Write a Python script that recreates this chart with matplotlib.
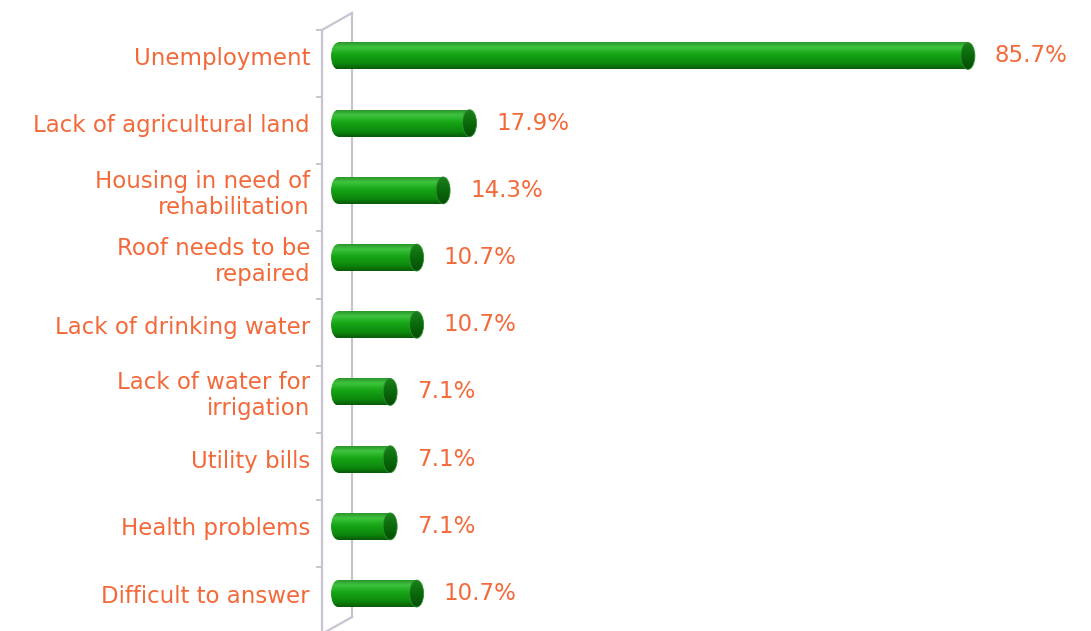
import numpy as np
import matplotlib
matplotlib.use('Agg')
from matplotlib import pyplot as plt
from matplotlib.patches import Ellipse
from matplotlib.colors import LinearSegmentedColormap

# data
categories = ['Unemployment', 'Lack of agricultural land', 'Housing in need of\nrehabilitation',
              'Roof needs to be\nrepaired', 'Lack of drinking water', 'Lack of water for\nirrigation',
              'Utility bills', 'Health problems', 'Difficult to answer']
values = [85.7, 17.9, 14.3, 10.7, 10.7, 7.1, 7.1, 7.1, 10.7]

text_color = '#F4693A'
wall_color = '#c9c3d1'
body_cmap = LinearSegmentedColormap.from_list('body', [(0, '#2b962b'), (0.18, '#3fc43f'), (0.45, '#16a616'),
                                                        (0.8, '#0c880c'), (1, '#095a09')])
cap_cmap = LinearSegmentedColormap.from_list('cap', [(0, '#1c7f1c'), (0.5, '#0a6a0a'), (1, '#054d05')])

fig = plt.figure(figsize=(10.91, 6.31), dpi=100)
ax = fig.add_axes([322/1091., 0, 1 - 322/1091., 1])

bar_h = 0.40
cap_w = 1.9
grad = np.linspace(0, 1, 64).reshape(-1, 1)

for i, v in enumerate(values):
    top, bot = i - bar_h/2, i + bar_h/2
    # body
    ax.imshow(grad, cmap=body_cmap, extent=[0, v, bot, top], origin='upper', aspect='auto', zorder=3)
    # rounded left end
    left = Ellipse((0, i), cap_w, bar_h, transform=ax.transData)
    im = ax.imshow(grad, cmap=body_cmap, extent=[-cap_w/2, cap_w/2, bot, top], origin='upper',
                   aspect='auto', zorder=3)
    im.set_clip_path(left)
    # right end face
    right = Ellipse((v, i), cap_w, bar_h, transform=ax.transData)
    im = ax.imshow(grad, cmap=cap_cmap, extent=[v - cap_w/2, v + cap_w/2, bot, top], origin='upper',
                   aspect='auto', zorder=4)
    im.set_clip_path(right)
    ax.add_patch(Ellipse((v, i), cap_w, bar_h, facecolor='none', edgecolor='#2e8f2e', lw=0.6, zorder=4))
    ax.annotate('%.1f%%' % v, xy=(v, i), xytext=(19.5, 0), textcoords='offset points',
                va='center', ha='left', fontsize=16.5, color=text_color)

ax.set_xlim(-2.18, 102.45)
ax.set_ylim(8.557, -0.833)

# 3d wall outline
fx, bx = -2.18, 1.90
ax.plot([fx, fx], [-0.387, 8.7], color=wall_color, lw=1.6, clip_on=False, zorder=1)
ax.plot([bx, bx], [-0.64, 8.35], color=wall_color, lw=1.6, clip_on=False, zorder=1)
ax.plot([fx, bx], [-0.387, -0.64], color=wall_color, lw=1.6, clip_on=False, zorder=1)
ax.plot([bx, fx], [8.35, 8.6], color=wall_color, lw=1.6, clip_on=False, zorder=1)
for i in range(len(values)):
    ax.plot([fx - 0.68, fx], [i - 0.39, i - 0.39], color=wall_color, lw=1.4, clip_on=False, zorder=1)

ax.set_yticks(range(len(categories)))
ax.set_yticklabels(categories, fontsize=16.5, color=text_color, linespacing=1.15)
ax.tick_params(axis='y', length=0, pad=8.6)
ax.set_xticks([])
for s in ax.spines.values():
    s.set_visible(False)

fig.savefig('out.png', dpi=100)
